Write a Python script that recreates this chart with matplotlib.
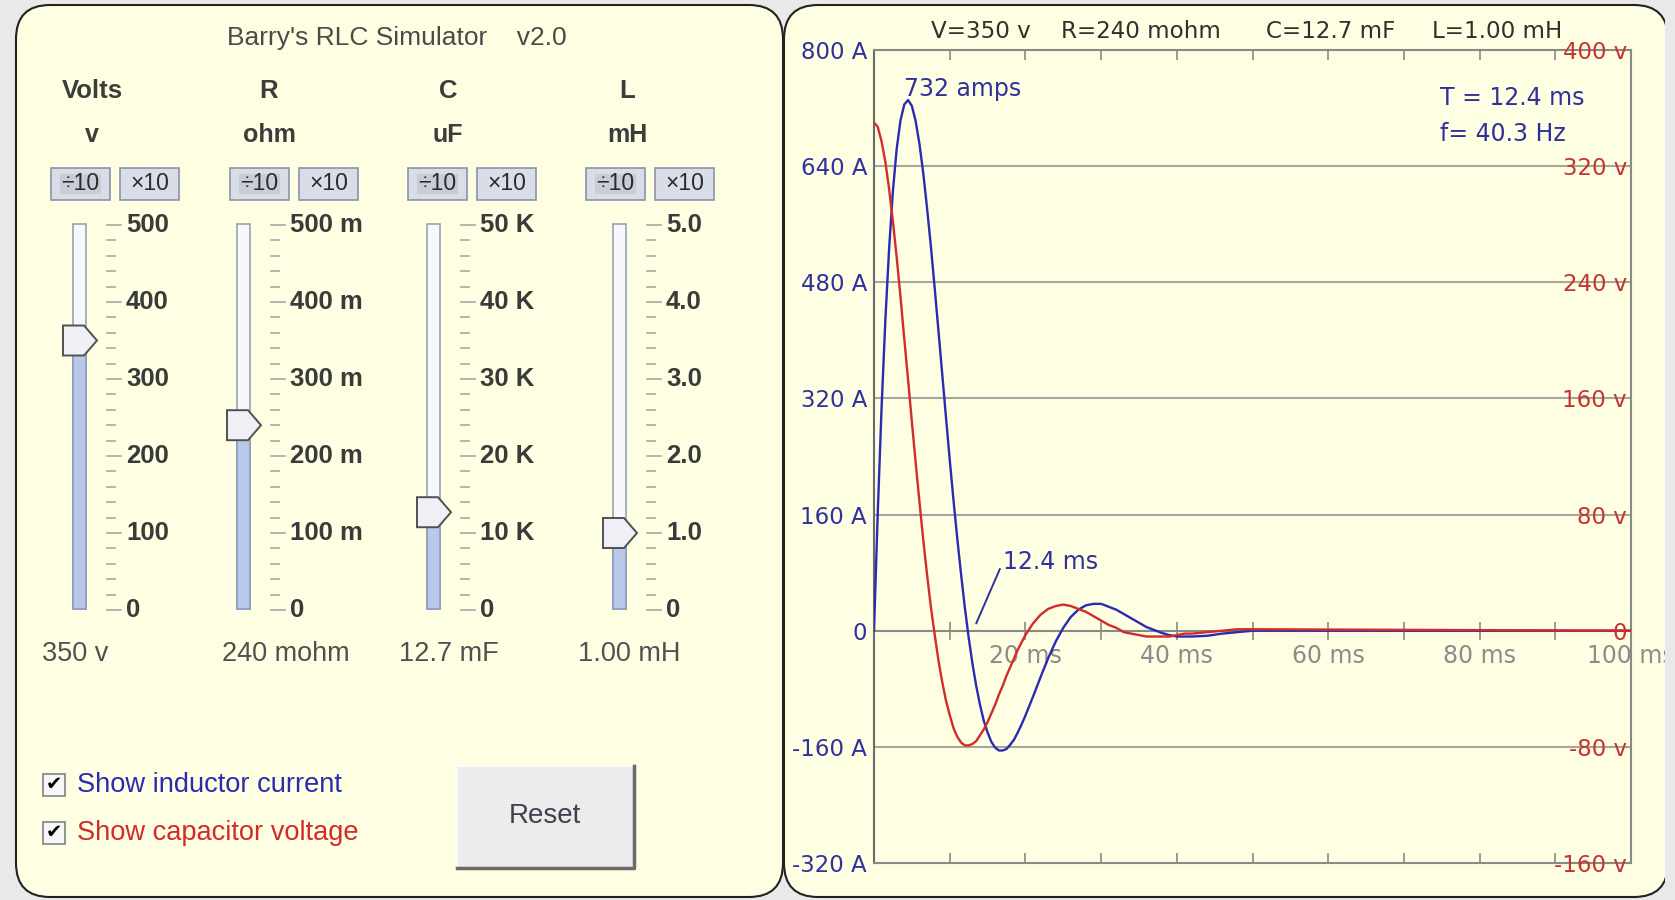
import numpy as np
import matplotlib
matplotlib.use('Agg')
from matplotlib import pyplot as plt
from matplotlib.patches import FancyBboxPatch, Rectangle, Polygon

# ---- values ----
time_ms = [0, 0.5, 1, 1.5, 2, 2.5, 3, 3.5, 4, 4.5, 5, 5.5, 6, 6.5, 7, 7.5, 8, 8.5, 9, 9.5,
           10, 10.5, 11, 11.5, 12, 12.5, 13, 13.5, 14, 14.5, 15, 15.5, 16, 16.5, 17, 17.5,
           18, 18.5, 19, 19.5, 20, 21, 22, 23, 24, 25, 26, 27, 28, 29, 30, 31, 32, 33, 34,
           35, 36, 37, 38, 39, 40, 41, 42, 44, 46, 48, 50, 100]
current_a = [0, 164, 307, 428, 527, 606, 664, 703, 725, 731, 723, 702, 671, 631, 583, 531,
             474, 415, 355, 295, 236, 180, 127, 78, 32, -9, -45, -76, -102, -124, -140, -153,
             -161, -165, -165, -163, -157, -150, -140, -129, -117, -91, -64, -38, -15, 4, 19,
             29, 35, 37, 37, 33, 29, 23, 17, 11, 5, 1, -3, -6, -8, -8, -8, -7, -4, -2, 0, 0]
voltage_v = [350, 347, 337, 323, 304, 282, 257, 230, 201, 173, 144, 116, 89, 63, 39, 17,
             -2, -20, -35, -48, -58, -67, -73, -77, -79, -79, -78, -76, -72, -68, -63, -57,
             -51, -44, -38, -31, -25, -19, -13, -8, -3, 5, 11, 15, 17, 18, 17, 15, 13, 10, 7,
             4, 2, -1, -2, -3, -4, -4, -4, -4, -3, -2, -2, -1, 0, 1, 1, 0]

amp_ticks = [-320, -160, 0, 160, 320, 480, 640, 800]
amp_labels = ['-320 A', '-160 A', '0', '160 A', '320 A', '480 A', '640 A', '800 A']
volt_ticks = [-160, -80, 0, 80, 160, 240, 320, 400]
volt_labels = ['-160 v', '-80 v', '0', '80 v', '160 v', '240 v', '320 v', '400 v']
time_ticks = [10, 20, 30, 40, 50, 60, 70, 80, 90, 100]
time_labels = ['', '20 ms', '', '40 ms', '', '60 ms', '', '80 ms', '', '100 ms']

params = ['V=350 v', 'R=240 mohm', 'C=12.7 mF', 'L=1.00 mH']
peak_current = 732
peak_time = 4.5
half_period = 12.4
freq = 40.3

slider_names = ['Volts', 'R', 'C', 'L']
slider_units = ['v', 'ohm', 'uF', 'mH']
slider_max = [500, 500, 50, 5.0]
slider_value = [350, 240, 12.7, 1.0]
slider_scale = [['0', '100', '200', '300', '400', '500'],
                ['0', '100 m', '200 m', '300 m', '400 m', '500 m'],
                ['0', '10 K', '20 K', '30 K', '40 K', '50 K'],
                ['0', '1.0', '2.0', '3.0', '4.0', '5.0']]
slider_readout = ['350 v', '240 mohm', '12.7 mF', '1.00 mH']
checkboxes = ['Show inductor current', 'Show capacitor voltage']

# ---- look ----
W, H = 1675, 900
BG = '#e9e9e9'
PANEL = '#fefee2'
BLUE = '#2a2ab4'
RED = '#d42a2a'
ABLUE = '#30309e'
VRED = '#c33535'
GRID = '#a6a69e'
GUI_FONT = 'Liberation Sans'
CHART_FONT = 'DejaVu Sans'

fig = plt.figure(figsize=(W / 100, H / 100), dpi=100, facecolor=BG)

# GUI layer in pixel coordinates (y down)
gui = fig.add_axes([0, 0, 1, 1])
gui.set_xlim(0, W)
gui.set_ylim(H, 0)
gui.axis('off')

for x0, x1 in [(16, 783), (784, 1668)]:
    gui.add_patch(FancyBboxPatch((x0, 5), x1 - x0, 892, boxstyle='round,pad=0,rounding_size=34',
                                 fc=PANEL, ec='#222222', lw=1.5))

gui.text(397, 38, "Barry's RLC Simulator    v2.0", ha='center', va='center',
         fontsize=19, color='#4a4a4a', family=GUI_FONT)

head_x = [92, 269, 448, 627]
btn_x = [51, 230, 408, 586]
track_x = [73, 237, 427, 613]
readout_x = [75, 286, 449, 629]
y_top, y_bot = 225, 610

for i in range(4):
    gui.text(head_x[i], 91, slider_names[i], ha='center', va='center', fontsize=18.5,
             fontweight='bold', color='#3c3c3c', family=GUI_FONT)
    gui.text(head_x[i], 135, slider_units[i], ha='center', va='center', fontsize=18,
             fontweight='bold', color='#3c3c3c', family=GUI_FONT)
    # buttons
    for k, lab in enumerate(['÷10', '×10']):
        bx = btn_x[i] + k * 69
        gui.add_patch(Rectangle((bx, 168), 59, 32, fc='#d9dde8', ec='#8a93a6', lw=1.2))
        if k == 0:
            gui.add_patch(Rectangle((bx + 9, 174), 41, 20, fc='#c8ccd4', ec='none'))
        gui.text(bx + 29.5, 184, lab, ha='center', va='center', fontsize=16.5,
                 color='#2a2a2a', family=GUI_FONT)
    # slider track
    tx = track_x[i]
    yc = y_bot - slider_value[i] / slider_max[i] * (y_bot - y_top)
    gui.add_patch(Rectangle((tx, y_top - 1), 13, y_bot - y_top, fc='#f7f8fb', ec='#9aa2b2', lw=1.2))
    gui.add_patch(Rectangle((tx, yc), 13, y_bot - 1 - yc, fc='#b9c8e8', ec='#8c9cc0', lw=1.2))
    # scale ticks and labels
    for j in range(26):
        ty = y_bot - j * (y_bot - y_top) / 25
        length = 14 if j % 5 == 0 else 8
        gui.plot([tx + 34, tx + 34 + length], [ty, ty], color='#a8a8a8', lw=1.2)
    for j, lab in enumerate(slider_scale[i]):
        ty = y_bot - j * (y_bot - y_top) / 5
        gui.text(tx + 53, ty, lab, ha='left', va='center', fontsize=18.5, fontweight='bold',
                 color='#3a3a3a', family=GUI_FONT)
    # thumb
    x0 = tx - 10
    gui.add_patch(Polygon([(x0, yc - 15), (x0 + 21, yc - 15), (x0 + 34, yc),
                           (x0 + 21, yc + 15), (x0, yc + 15)], closed=True,
                          fc='#eef0f6', ec='#505050', lw=1.4, zorder=3))
    gui.text(readout_x[i], 654, slider_readout[i], ha='center', va='center', fontsize=19.5,
             color='#505050', family=GUI_FONT)

# checkboxes
for k, (lab, col) in enumerate(zip(checkboxes, [BLUE, RED])):
    cy = 785 + k * 48
    gui.add_patch(Rectangle((43, cy - 11), 22, 22, fc='#f6f6f6', ec='#8a8a8a', lw=1.3))
    gui.text(54, cy, '✔', ha='center', va='center', fontsize=14, color='black', family='DejaVu Sans')
    gui.text(77, cy, lab, ha='left', va='center', fontsize=19.6, color=col, family=GUI_FONT)

# reset button
gui.add_patch(Rectangle((457, 766), 177, 102, fc='#ececec', ec='none'))
gui.plot([457, 457, 634], [868, 766, 766], color='#fafafa', lw=1.5)
gui.plot([457, 634, 634], [868, 868, 766], color='#6a6a6a', lw=2.5)
gui.text(545, 816, 'Reset', ha='center', va='center', fontsize=20, color='#40404e', family=GUI_FONT)

# parameters above the chart
for x, s in zip([931, 1061, 1266, 1432], params):
    gui.text(x, 31, s, ha='left', va='center', fontsize=16.6, color='#303030', family=CHART_FONT)

# ---- chart ----
ax = fig.add_axes([874 / W, 1 - 863 / H, 757 / W, 813 / H])
ax.set_facecolor('none')
ax.set_xlim(0, 100)
ax.set_ylim(-320, 800)
for v in amp_ticks[1:-1]:
    ax.axhline(v, color='#8a8a84' if v == 0 else GRID, lw=1.5, zorder=1)
ax.plot(time_ms, current_a, color=BLUE, lw=1.7, zorder=3)

ax2 = ax.twinx()
ax2.set_ylim(-160, 400)
ax2.plot(time_ms, voltage_v, color=RED, lw=1.7)
for sp in ax2.spines.values():
    sp.set_visible(False)

for sp in ax.spines.values():
    sp.set_color('#8a8a84')
    sp.set_linewidth(1.5)
ax.spines['left'].set_color('#6a6a6a')

ax.set_xticks(time_ticks)
ax.tick_params(axis='x', direction='in', top=True, bottom=True, length=7, width=1.2,
               color='#8a8a84', labelbottom=False)
ax.set_yticks(amp_ticks, amp_labels)
ax.tick_params(axis='y', length=0, pad=5, labelcolor=ABLUE, labelsize=16.5)
for t in ax.get_yticklabels():
    t.set_family(CHART_FONT)

ax2.set_yticks(volt_ticks, volt_labels)
ax2.tick_params(axis='y', length=0, pad=-3, labelcolor=VRED, labelsize=16.5)
for t in ax2.get_yticklabels():
    t.set_horizontalalignment('right')
    t.set_family(CHART_FONT)

sec = ax.secondary_xaxis(320 / 1120)
sec.set_xticks(time_ticks, time_labels)
sec.tick_params(direction='inout', length=13, width=1.2, color='#8a8a84',
                labelcolor='#8c8c8c', labelsize=17, pad=3)
for sp in sec.spines.values():
    sp.set_visible(False)

ax.text(peak_time - 0.5, peak_current + 14, f'{peak_current} amps', ha='left', va='center',
        fontsize=17, color=ABLUE, family=CHART_FONT)
ax.annotate(f'{half_period} ms', xy=(13.5, 10), xytext=(17.0, 94), ha='left', va='center',
            fontsize=17, color=ABLUE, family=CHART_FONT,
            arrowprops=dict(arrowstyle='-', color=ABLUE, lw=1.4, shrinkA=0, shrinkB=0,
                            relpos=(0, 0.5)))
ax.text(0.748, 0.941, f'T = {half_period} ms', transform=ax.transAxes, ha='left', va='center',
        fontsize=17, color=ABLUE, family=CHART_FONT)
ax.text(0.748, 0.897, f'f= {freq} Hz', transform=ax.transAxes, ha='left', va='center',
        fontsize=17, color=ABLUE, family=CHART_FONT)

# screenshot edge on the right
fig.add_artist(Rectangle((1665 / W, 0), 10 / W, 1, transform=fig.transFigure,
                         fc=BG, ec='none', zorder=10))

fig.savefig('out.png', dpi=100, facecolor=BG)
